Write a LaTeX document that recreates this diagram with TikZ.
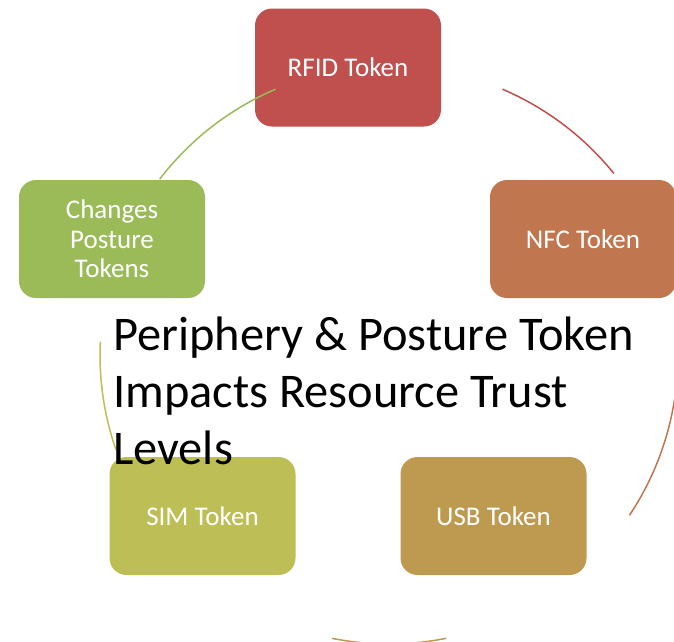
\documentclass[tikz,border=0pt]{standalone}
\usepackage{fontspec}
\setmainfont{Carlito}
\definecolor{cRed}{HTML}{C0504D}
\definecolor{cOrange}{HTML}{C0774F}
\definecolor{cGold}{HTML}{BE9A50}
\definecolor{cOlive}{HTML}{BDBE55}
\definecolor{cGreen}{HTML}{9BBB59}
\begin{document}
\begin{tikzpicture}[x=1pt,y=-1pt,
  tok/.style={rounded corners=17pt, minimum width=186pt, minimum height=118pt,
    inner sep=0pt, text=white, font=\fontsize{27}{29.7}\selectfont, align=center},
  conn/.style={line width=1.5pt}]
\useasboundingbox (0,0) rectangle (674,641);
\clip (0,0) rectangle (674,641);
\fill[white] (0,0) rectangle (674,641);
\coordinate (o) at (389,355);
% connectors behind the boxes
\draw[conn,cRed] ([shift={(-66.9:289)}]o) arc[start angle=-66.9,end angle=-38.9,radius=289];
\draw[conn,cOrange] ([shift={(-2.6:289)}]o) arc[start angle=-2.6,end angle=33.7,radius=289];
\draw[conn,cGold] ([shift={(78.6:289)}]o) arc[start angle=78.6,end angle=101.4,radius=289];
\draw[conn,cOlive] ([shift={(160.9:289)}]o) arc[start angle=160.9,end angle=182.6,radius=289];
% boxes
\node[tok,fill=cRed] (rfid) at (348,67.5) {RFID Token};
\node[tok,fill=cOrange] (nfc) at (583,239) {NFC Token};
\node[tok,fill=cGold] (usb) at (493.5,516) {USB Token};
\node[tok,fill=cOlive] (sim) at (202.5,516) {SIM Token};
\node[tok,fill=cGreen] (chg) at (112,239) {Changes\\Posture\\Tokens};
% last connector over the first box
\draw[conn,cGreen] ([shift={(217.5:289)}]o) arc[start angle=217.5,end angle=246.9,radius=289];
% title
\node[anchor=base west, inner sep=0pt, align=left, font=\fontsize{48.4}{57}\selectfont] (title) at (113,464)
  {Periphery \& Posture Token\\Impacts Resource Trust\\Levels};
\end{tikzpicture}
\end{document}
